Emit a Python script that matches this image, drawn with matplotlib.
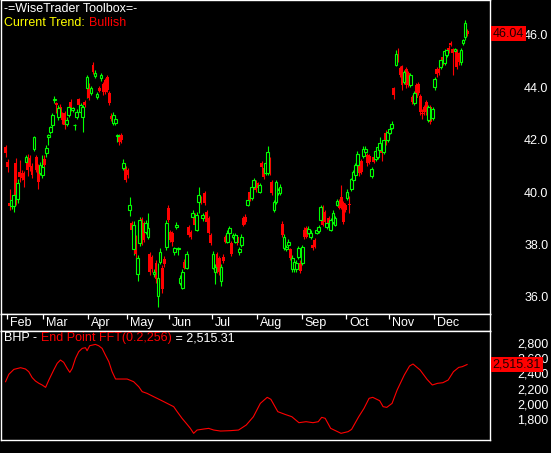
import numpy as np
import matplotlib
matplotlib.use('Agg')
import matplotlib.pyplot as plt
import matplotlib.transforms as mtransforms
from matplotlib.ticker import FuncFormatter

plt.rcParams['font.family'] = ['Liberation Sans', 'DejaVu Sans']

# daily candles (Feb .. Dec)
opens = [41.72, 41.15, 39.60, 39.45, 39.45, 41.11, 39.75, 40.77, 40.73, 40.73,
         41.15, 41.23, 41.30, 41.00, 41.65, 41.34, 40.96, 40.73, 40.66, 41.27,
         41.50, 42.10, 42.30, 42.55, 43.50, 43.40, 42.86, 43.25, 43.00, 43.00,
         42.60, 42.94, 43.43, 43.13, 42.55, 42.86, 43.55, 43.05, 42.86, 43.43,
         43.97, 44.08, 43.78, 44.84, 44.42, 43.62, 43.97, 44.35, 44.12, 44.27,
         44.39, 43.77, 42.90, 42.63, 42.63, 42.15, 42.14, 42.18, 40.92, 40.92,
         40.85, 39.33, 38.83, 37.81, 38.27, 36.86, 38.07, 38.99, 38.83, 38.49,
         38.30, 37.62, 37.54, 36.86, 37.31, 36.02, 37.35, 37.12, 37.46, 37.92,
         39.40, 38.49, 38.45, 37.70, 38.68, 37.83, 36.55, 36.36, 37.35, 37.12,
         38.65, 38.49, 39.06, 39.14, 38.57, 39.63, 39.75, 39.00, 39.98, 39.25,
         39.02, 38.38, 37.12, 36.94, 37.62, 37.50, 36.59, 37.54, 38.27, 38.11,
         38.45, 38.07, 38.27, 38.11, 38.27, 37.70, 37.99, 39.02, 39.06, 39.52,
         40.00, 39.79, 40.20, 40.39, 40.35, 40.01, 41.11, 40.92, 40.73, 40.73,
         41.30, 40.39, 39.33, 39.63, 39.98, 39.98, 38.80, 37.88, 37.81, 37.99,
         37.81, 37.05, 37.05, 37.05, 37.54, 37.31, 37.31, 38.57, 38.64, 38.45,
         38.27, 38.00, 38.19, 38.45, 38.50, 38.95, 39.44, 39.25, 38.68, 39.02,
         38.57, 38.87, 38.76, 39.52, 39.67, 39.82, 39.60, 39.52, 39.79, 39.54,
         40.13, 40.47, 40.66, 41.04, 41.11, 41.20, 41.38, 41.53, 41.42, 41.38,
         40.62, 41.34, 41.27, 41.34, 41.61, 41.72, 41.53, 42.25, 41.99, 42.25,
         42.44, 43.97, 44.84, 45.22, 44.73, 44.80, 44.20, 44.69, 44.54, 44.08,
         43.62, 43.40, 44.08, 44.12, 43.66, 43.03, 43.24, 43.43, 42.75, 43.24,
         42.82, 44.00, 44.69, 44.69, 44.77, 45.14, 44.92, 45.22, 45.49, 45.68,
         45.45, 45.37, 45.41, 45.30, 44.95, 45.68, 45.90, 46.13]
closes = [41.49, 40.96, 39.45, 39.70, 39.90, 39.71, 40.35, 40.58, 40.55, 40.47,
          41.34, 40.85, 40.96, 40.65, 42.10, 40.85, 40.39, 41.04, 40.96, 41.04,
          41.69, 42.18, 42.48, 42.95, 43.56, 43.33, 43.20, 43.00, 42.75, 42.56,
          42.75, 43.25, 43.20, 43.20, 42.56, 43.05, 43.32, 43.32, 43.25, 43.32,
          44.39, 43.58, 43.97, 44.58, 44.54, 43.74, 43.85, 44.46, 43.81, 43.81,
          43.89, 43.40, 42.79, 42.94, 42.79, 42.18, 41.90, 41.99, 41.11, 40.47,
          40.66, 39.52, 38.57, 38.76, 37.62, 37.50, 38.95, 38.11, 38.19, 38.83,
          38.64, 36.94, 37.05, 36.97, 36.67, 36.74, 37.73, 36.29, 37.24, 38.83,
          38.95, 38.19, 38.11, 37.85, 38.76, 37.85, 36.74, 36.97, 37.12, 37.62,
          38.38, 38.30, 39.21, 38.76, 39.14, 39.90, 39.63, 39.14, 39.60, 38.87,
          38.45, 38.07, 37.65, 37.16, 36.97, 36.94, 37.16, 37.38, 38.11, 38.45,
          38.64, 37.62, 38.38, 38.38, 38.07, 37.81, 38.30, 38.76, 38.87, 39.71,
          39.71, 40.20, 40.47, 40.09, 40.16, 40.28, 40.96, 40.58, 41.11, 41.53,
          40.73, 39.98, 39.63, 40.39, 40.09, 40.20, 38.38, 38.30, 37.92, 38.11,
          37.50, 37.50, 37.35, 37.31, 37.88, 37.00, 37.92, 38.30, 38.30, 38.60,
          38.45, 37.88, 37.92, 38.57, 38.68, 39.44, 38.76, 38.87, 38.83, 38.68,
          38.95, 39.21, 39.02, 39.67, 39.40, 39.40, 38.87, 39.33, 40.01, 39.50,
          40.50, 40.77, 41.04, 41.46, 40.73, 40.77, 41.65, 41.65, 41.11, 41.15,
          40.88, 41.15, 41.57, 41.72, 41.88, 41.50, 41.99, 41.88, 42.29, 42.41,
          42.60, 43.70, 45.26, 45.15, 44.46, 44.08, 44.58, 44.08, 44.08, 44.46,
          43.43, 43.77, 43.58, 43.77, 43.05, 42.99, 43.05, 43.05, 43.24, 42.67,
          43.17, 44.31, 44.50, 44.54, 45.03, 44.92, 45.37, 45.41, 45.37, 45.60,
          45.30, 45.45, 44.77, 44.95, 45.41, 45.79, 46.44, 46.04]
highs = [41.80, 41.25, 40.10, 39.80, 40.00, 41.30, 40.50, 41.23, 40.85, 40.80,
         41.40, 41.45, 41.40, 41.10, 42.15, 41.40, 41.05, 41.15, 41.40, 41.40,
         41.80, 42.20, 42.50, 43.00, 43.65, 43.45, 43.30, 43.35, 43.05, 43.10,
         42.85, 43.35, 43.55, 43.25, 42.60, 43.15, 43.60, 43.40, 43.30, 43.50,
         44.45, 44.15, 44.05, 44.95, 44.65, 43.80, 44.05, 44.55, 44.20, 44.35,
         44.45, 43.85, 43.00, 43.05, 42.90, 42.20, 42.20, 42.25, 41.25, 41.00,
         40.90, 39.80, 38.90, 38.90, 38.35, 37.60, 39.05, 39.05, 38.90, 38.95,
         39.20, 37.70, 37.60, 37.05, 37.40, 37.30, 37.85, 37.20, 37.55, 38.95,
         39.50, 38.55, 38.50, 37.90, 38.85, 37.90, 36.85, 37.05, 37.45, 37.75,
         38.75, 38.55, 39.30, 39.20, 39.25, 40.20, 39.85, 39.20, 40.05, 39.30,
         39.10, 38.45, 37.75, 37.25, 37.70, 37.55, 37.25, 37.65, 38.35, 38.55,
         38.70, 38.15, 38.45, 38.45, 38.35, 37.90, 38.40, 39.10, 39.15, 39.80,
         40.05, 40.30, 40.55, 40.45, 40.40, 40.35, 41.20, 41.00, 41.20, 41.75,
         41.35, 40.45, 39.70, 40.45, 40.15, 40.30, 38.90, 38.40, 38.00, 38.20,
         37.85, 37.60, 37.40, 37.40, 37.95, 37.40, 38.00, 38.65, 38.70, 38.70,
         38.55, 38.05, 38.25, 38.65, 38.75, 39.50, 39.50, 39.30, 38.90, 39.10,
         39.00, 39.30, 39.10, 39.75, 39.75, 40.25, 39.65, 39.60, 40.10, 39.85,
         40.55, 40.85, 41.10, 41.55, 41.20, 41.25, 41.75, 41.75, 41.50, 41.45,
         40.95, 41.40, 41.65, 41.80, 42.10, 41.80, 42.05, 42.35, 42.35, 42.50,
         42.70, 44.00, 45.40, 45.50, 44.80, 44.85, 44.65, 44.75, 44.60, 44.55,
         43.70, 43.85, 44.15, 44.20, 43.75, 43.15, 43.30, 43.50, 43.30, 43.30,
         43.25, 44.40, 44.75, 44.75, 45.10, 45.20, 45.45, 45.50, 45.60, 45.75,
         45.50, 45.50, 45.45, 45.35, 45.50, 45.85, 46.55, 46.20]
lows = [41.34, 40.75, 39.30, 39.35, 39.25, 39.50, 39.60, 40.40, 40.45, 40.20,
        41.05, 40.60, 40.80, 40.55, 41.55, 40.75, 40.10, 40.65, 40.55, 40.90,
        41.35, 41.80, 42.20, 42.45, 43.40, 43.00, 42.75, 42.90, 42.60, 42.40,
        42.50, 42.85, 43.10, 43.05, 42.35, 42.80, 43.25, 42.95, 42.30, 43.25,
        43.60, 43.50, 43.70, 44.50, 44.35, 43.55, 43.80, 44.25, 43.70, 43.75,
        43.80, 43.30, 42.70, 42.55, 42.55, 41.90, 41.80, 41.85, 40.85, 40.40,
        40.55, 39.10, 38.45, 37.60, 37.50, 36.60, 37.95, 38.00, 38.10, 38.40,
        38.20, 36.85, 36.95, 36.75, 36.55, 35.60, 37.25, 36.15, 37.15, 37.80,
        38.85, 38.10, 37.95, 37.60, 38.60, 37.60, 36.45, 36.30, 37.05, 37.05,
        38.30, 38.20, 38.95, 38.70, 38.50, 39.20, 39.55, 38.90, 39.50, 38.80,
        38.40, 38.00, 37.05, 36.50, 36.90, 36.85, 36.40, 37.30, 38.05, 38.05,
        38.40, 37.55, 38.20, 38.05, 38.00, 37.60, 37.90, 38.70, 38.80, 39.45,
        39.65, 39.70, 40.15, 40.00, 40.10, 39.95, 40.90, 40.50, 40.65, 40.65,
        40.65, 39.90, 39.25, 39.55, 39.90, 39.90, 38.30, 37.80, 37.75, 37.90,
        37.40, 36.95, 36.95, 36.95, 37.45, 36.90, 37.20, 38.20, 38.25, 38.40,
        38.20, 37.80, 37.85, 38.40, 38.45, 38.90, 38.70, 38.80, 38.60, 38.60,
        38.50, 38.80, 38.70, 39.45, 39.35, 39.35, 38.80, 39.25, 39.70, 39.20,
        40.05, 40.40, 40.60, 40.95, 40.60, 40.70, 41.30, 41.45, 41.00, 41.05,
        40.55, 41.10, 41.20, 41.25, 41.55, 41.20, 41.45, 41.80, 41.90, 42.20,
        42.40, 43.55, 44.80, 44.95, 44.40, 43.90, 44.10, 43.95, 44.00, 44.00,
        43.35, 43.30, 43.50, 43.70, 42.95, 42.80, 42.95, 42.95, 42.65, 42.60,
        42.75, 43.90, 44.40, 44.45, 44.70, 44.85, 44.85, 45.15, 45.30, 45.55,
        44.45, 45.30, 44.70, 44.85, 44.85, 45.60, 45.80, 45.95]

months = ['Feb', 'Mar', 'Apr', 'May', 'Jun', 'Jul', 'Aug', 'Sep', 'Oct', 'Nov', 'Dec']
month_start = [1, 19, 41, 60, 81, 102, 124, 146, 168, 189, 211]
price_ticks = [36.0, 38.0, 40.0, 42.0, 44.0, 46.0]
last_close = 46.04

# End Point FFT line, traced points (bar position, value)
fft_pos = [0.0, 1.6, 4.1, 7.4, 9.8, 11.4, 13.1, 14.7, 16.4, 18.0,
           19.7, 21.3, 23.7, 25.4, 27.0, 28.6, 30.3, 31.6, 32.8, 34.4,
           36.0, 37.7, 39.3, 40.1, 41.4, 44.2, 45.8, 47.5, 49.1, 50.8,
           52.4, 54.1, 59.8, 63.0, 65.5, 67.2, 69.6, 72.9, 76.2, 79.5,
           82.7, 84.4, 86.8, 89.3, 90.9, 92.5, 94.2, 97.4, 99.9, 102.4,
           105.7, 110.6, 114.6, 118.4, 121.9, 125.3, 128.7, 130.5, 133.9, 137.4,
           140.8, 144.3, 147.8, 151.2, 153.8, 155.5, 157.2, 159.9, 163.3, 165.0,
           168.5, 170.2, 173.7, 176.3, 178.8, 180.6, 184.0, 185.7, 187.5, 190.1,
           192.6, 196.1, 198.7, 200.4, 203.9, 207.3, 209.9, 212.5, 215.1, 217.7,
           220.3, 222.9, 224.6, 227.0]
fft_val = [2291, 2387, 2452, 2474, 2457, 2422, 2344, 2300, 2270, 2248,
           2217, 2313, 2444, 2531, 2574, 2544, 2465, 2413, 2465, 2596,
           2683, 2726, 2735, 2696, 2761, 2778, 2761, 2726, 2639, 2552,
           2422, 2326, 2326, 2291, 2226, 2161, 2139, 2095, 2052, 2008,
           1965, 1900, 1813, 1734, 1682, 1617, 1660, 1673, 1682, 1660,
           1647, 1652, 1660, 1726, 1834, 2008, 2087, 2061, 1900, 1865,
           1834, 1756, 1769, 1756, 1769, 1826, 1813, 1682, 1639, 1617,
           1639, 1669, 1834, 1943, 2074, 2087, 2043, 1965, 1956, 2008,
           2183, 2378, 2496, 2522, 2444, 2322, 2248, 2270, 2278, 2313,
           2422, 2478, 2487, 2515.31]
fft_ticks = [1800, 2000, 2200, 2400, 2600, 2800]
fft_last = 2515.31

GREEN = '#00ff00'
RED = '#ff0000'
FS = 9

fig = plt.figure(figsize=(5.51, 4.53), dpi=100, facecolor='black')
ax = fig.add_axes([0.001, 0.3062, 0.8884, 0.6927])
strip = fig.add_axes([0.001, 0.27, 0.8884, 0.0362])
low = fig.add_axes([0.001, 0.0287, 0.8884, 0.2413])
xlim = (-2.46, 238.3)

for a in (ax, strip, low):
    a.set_facecolor('black')
    a.set_xlim(*xlim)
    for s in a.spines.values():
        s.set_color('white')
        s.set_linewidth(1.0)

# candles
o = np.array(opens)
c = np.array(closes)
h = np.array(highs)
l = np.array(lows)
idx = np.arange(len(c))
up = c >= o
dn = ~up
ax.vlines(idx[dn], l[dn], h[dn], color=RED, lw=0.8, zorder=2)
ax.vlines(idx[up], l[up], h[up], color=GREEN, lw=0.8, zorder=2)
ax.bar(idx[dn], (o - c)[dn], bottom=c[dn], width=1.45, color=RED, lw=0, zorder=3)
ax.bar(idx[up], (c - o)[up], bottom=o[up], width=1.35, facecolor='black',
       edgecolor=GREEN, lw=0.8, zorder=4)

ax.set_ylim(35.34, 47.30)
ax.set_xticks([])
ax.yaxis.tick_right()
ax.set_yticks(price_ticks)
ax.yaxis.set_major_formatter(FuncFormatter(lambda v, p: f'{v:.1f}'))
ax.tick_params(axis='y', length=0, pad=42, colors='white', labelsize=FS)
plt.setp(ax.get_yticklabels(), ha='right')

trans = mtransforms.blended_transform_factory(ax.transAxes, ax.transData)
ax.text(1.005, last_close, f'{last_close:.2f}', transform=trans, ha='left', va='center',
        color='#200000', fontsize=FS, clip_on=False, zorder=6,
        bbox=dict(boxstyle='square,pad=0.15', fc=RED, ec='none'))

ax.text(0.008, 0.993, '-=WiseTrader Toolbox=-', transform=ax.transAxes,
        color='white', fontsize=FS, ha='left', va='top')
t1 = ax.text(0.008, 0.948, 'Current Trend: ', transform=ax.transAxes,
             color='#ffff00', fontsize=FS, ha='left', va='top')
ax.annotate('Bullish', xy=(1, 0), xycoords=t1, va='bottom', ha='left',
            color=RED, fontsize=FS)

# month strip
strip.set_ylim(0, 1)
strip.set_yticks([])
tick_pos = np.array(month_start) - 0.4
strip.set_xticks(tick_pos)
strip.xaxis.set_ticks_position('top')
strip.tick_params(axis='x', direction='in', length=3.8, width=0.9, color='white',
                  labeltop=False, labelbottom=False)
for p, m in zip(tick_pos, months):
    strip.annotate(m, xy=(p, 0.45), xycoords=('data', 'axes fraction'),
                   xytext=(2, 0), textcoords='offset points',
                   color='white', fontsize=FS, ha='left', va='center')

# FFT panel
low.plot(fft_pos, fft_val, color=RED, lw=0.8)
low.set_ylim(1530, 2957)
low.set_xticks([])
low.yaxis.tick_right()
low.set_yticks(fft_ticks)
low.yaxis.set_major_formatter(FuncFormatter(lambda v, p: f'{v:,.0f}'))
low.tick_params(axis='y', length=0, pad=42, colors='white', labelsize=FS)
plt.setp(low.get_yticklabels(), ha='right')

trans2 = mtransforms.blended_transform_factory(low.transAxes, low.transData)
low.text(1.005, fft_last, f'{fft_last:,.2f}', transform=trans2, ha='left', va='center',
         color='#200000', fontsize=FS, clip_on=False, zorder=6,
         bbox=dict(boxstyle='square,pad=0.15', fc=RED, ec='none'))

b1 = low.text(0.008, 0.985, 'BHP - ', transform=low.transAxes,
              color='white', fontsize=FS, ha='left', va='top')
b2 = low.annotate('End Point FFT(0.2,256)', xy=(1, 0), xycoords=b1, va='bottom',
                  ha='left', color=RED, fontsize=FS)
low.annotate(f' = {fft_last:,.2f}', xy=(1, 0), xycoords=b2, va='bottom', ha='left',
             color='white', fontsize=FS)

fig.savefig('out.png', dpi=100, facecolor='black')
